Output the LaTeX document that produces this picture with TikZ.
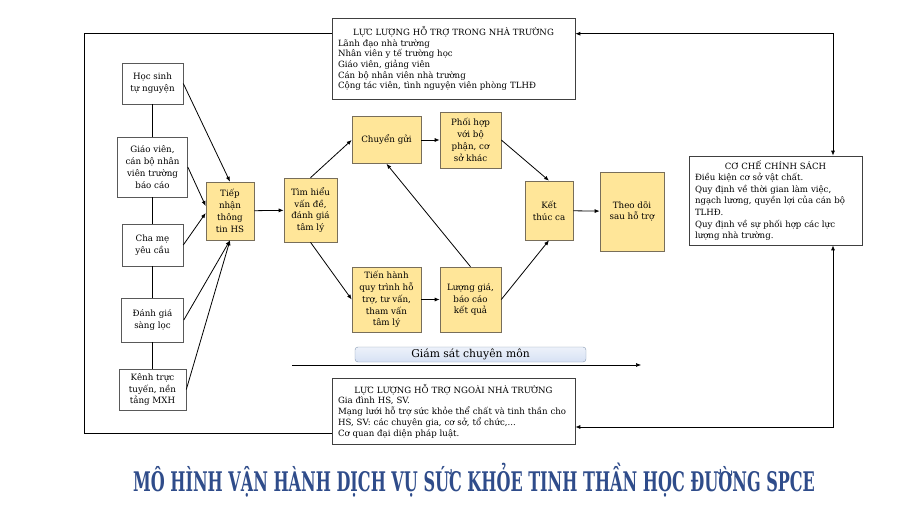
\documentclass[tikz,border=0pt]{standalone}
\usepackage{fontspec}
\setmainfont{DejaVu Serif}
\usepackage{graphicx}
\usepackage{xcolor}
\usetikzlibrary{arrows.meta}
\definecolor{vangnhat}{RGB}{255,230,153}
\definecolor{vienvang}{RGB}{120,110,90}
\definecolor{xanhnhat}{RGB}{214,225,244}
\definecolor{vienxanh}{RGB}{132,151,176}
\definecolor{xanhdam}{RGB}{47,76,138}

\begin{document}
\begin{tikzpicture}[x=1pt,y=-1pt,
		hop/.style={draw=black!65, line width=0.6pt, align=center, inner sep=1pt, font=\fontsize{8.7}{11.8}\selectfont},
		vang/.style={hop, fill=vangnhat, draw=vienvang},
		khung/.style={draw=black!75, line width=0.6pt, align=left, inner xsep=6pt, inner ysep=2pt, text width=#1, font=\fontsize{8.6}{10.7}\selectfont},
		mui/.style={-{Latex[length=5pt,width=4pt]}, line width=0.8pt},
		haimui/.style={{Latex[length=5pt,width=4pt]}-{Latex[length=5pt,width=4pt]}, line width=0.8pt},
		noi/.style={line width=0.8pt}]
			\useasboundingbox (0,0) rectangle (900,506);
			% Vẽ các nguồn tiếp nhận
			\node[hop, minimum width=61, minimum height=41] (hs) at (152.5,83.5) {Học sinh\\tự nguyện};
			\node[hop, minimum width=70, minimum height=60] (gv) at (152.5,167) {Giáo viên,\\cán bộ nhân\\viên trường\\báo cáo};
			\node[hop, minimum width=61, minimum height=42] (cm) at (152.5,245) {Cha mẹ\\yêu cầu};
			\node[hop, minimum width=62, minimum height=44] (dg) at (152.5,320) {Đánh giá\\sàng lọc};
			\node[hop, minimum width=67, minimum height=41] (kenh) at (152.5,389.5) {Kênh trực\\tuyến, nền\\tảng MXH};
			\foreach \a/\b in {hs/gv,gv/cm,cm/dg,dg/kenh}
			\draw[noi] (\a) -- (\b);
			% Vẽ quy trình
			\node[vang, minimum width=48, minimum height=58] (tn) at (230,211) {Tiếp\\nhận\\thông\\tin HS};
			\node[vang, minimum width=53, minimum height=64] (th) at (310.5,210) {Tìm hiểu\\vấn đề,\\đánh giá\\tâm lý};
			\node[vang, minimum width=69, minimum height=47] (cg) at (386.5,140) {Chuyển gửi};
			\node[vang, minimum width=61, minimum height=56] (ph) at (470.5,140) {Phối hợp\\với bộ\\phận, cơ\\sở khác};
			\node[vang, minimum width=69, minimum height=65] (tien) at (386.5,299.5) {Tiến hành\\quy trình hỗ\\trợ, tư vấn,\\tham vấn\\tâm lý};
			\node[vang, minimum width=61, minimum height=65] (lg) at (470.5,299.5) {Lượng giá,\\báo cáo\\kết quả};
			\node[vang, minimum width=48, minimum height=59] (ktc) at (549,210.5) {Kết\\thúc ca};
			\node[vang, minimum width=64, minimum height=79] (td) at (632,211.5) {Theo dõi\\sau hỗ trợ};
			\draw[mui] (hs.east) -- (tn.north);
			\draw[mui] (gv.east) -- ([yshift=5pt]tn.west);
			\draw[mui] (cm.east) -- ([yshift=-2pt]tn.west);
			\draw[mui] (dg.east) -- (tn.south);
			\draw[mui] (kenh.east) -- (tn.south);
			\draw[mui] (tn) -- (th);
			\draw[mui] (th.north) -- (cg.west);
			\draw[mui] (th.south) -- (tien.west);
			\draw[mui] (cg) -- (ph);
			\draw[mui] (tien) -- (lg);
			\draw[mui] (lg.north) -- (cg.south);
			\draw[mui] (ph.east) -- (ktc.north);
			\draw[mui] (lg.east) -- (ktc.south);
			\draw[mui] (ktc) -- (td);
			% Vẽ các lực lượng và cơ chế
			\node[khung=231pt, minimum height=81] (ltr) at (453.5,58.5) {{\centering LỰC LƯỢNG HỖ TRỢ TRONG NHÀ TRƯỜNG\par}
				Lãnh đạo nhà trường\\
				Nhân viên y tế trường học\\
				Giáo viên, giảng viên\\
				Cán bộ nhân viên nhà trường\\
				Cộng tác viên, tình nguyện viên phòng TLHĐ};
			\node[khung=231pt, minimum height=66] (lnt) at (453.5,411) {{\centering LỰC LƯỢNG HỖ TRỢ NGOÀI NHÀ TRƯỜNG\par}
				Gia đình HS, SV.\\
				Mạng lưới hỗ trợ sức khỏe thể chất và tinh thần cho\\
				HS, SV: các chuyên gia, cơ sở, tổ chức,...\\
				Cơ quan đại diện pháp luật.};
			\node[khung=161pt, minimum height=89, font=\fontsize{8.6}{11.6}\selectfont] (ccs) at (775.5,200.5) {{\centering CƠ CHẾ CHÍNH SÁCH\par}
				Điều kiện cơ sở vật chất.\\
				Quy định về thời gian làm việc,\\
				ngạch lương, quyền lợi của cán bộ\\
				TLHĐ.\\
				Quy định về sự phối hợp các lực\\
				lượng nhà trường.};
			\coordinate (goctrai) at (84,433);
			\coordinate (trucphai) at (833,0);
			\draw[noi] ([yshift=-16pt]ltr.north west) -| (goctrai) -- (goctrai -| lnt.west);
			\draw[haimui] ([yshift=-16pt]ltr.north east) -| (trucphai |- ccs.north);
			\draw[haimui] ([yshift=-16pt]lnt.east) -| (trucphai |- ccs.south);
			% Giám sát
			\node[draw=vienxanh, rounded corners=3pt, top color=xanhnhat!45, bottom color=xanhnhat, minimum width=231, minimum height=15, inner sep=0pt, font=\fontsize{10.8}{12}\selectfont] (gs) at (470.5,354.5) {Giám sát chuyên môn};
			\coordinate (gsdau) at (292,365);
			\coordinate (gscuoi) at (641,365);
			\draw[mui, line width=0.6pt] (gsdau) -- (gscuoi);
			% Tiêu đề
			\node[anchor=base, text=xanhdam, inner sep=0pt, font=\fontsize{27}{27}\selectfont\bfseries] (tieude) at (474,491) {\scalebox{0.594}[1]{MÔ HÌNH VẬN HÀNH DỊCH VỤ SỨC KHỎE TINH THẦN HỌC ĐƯỜNG SPCE}};
		\end{tikzpicture}
\end{document}
